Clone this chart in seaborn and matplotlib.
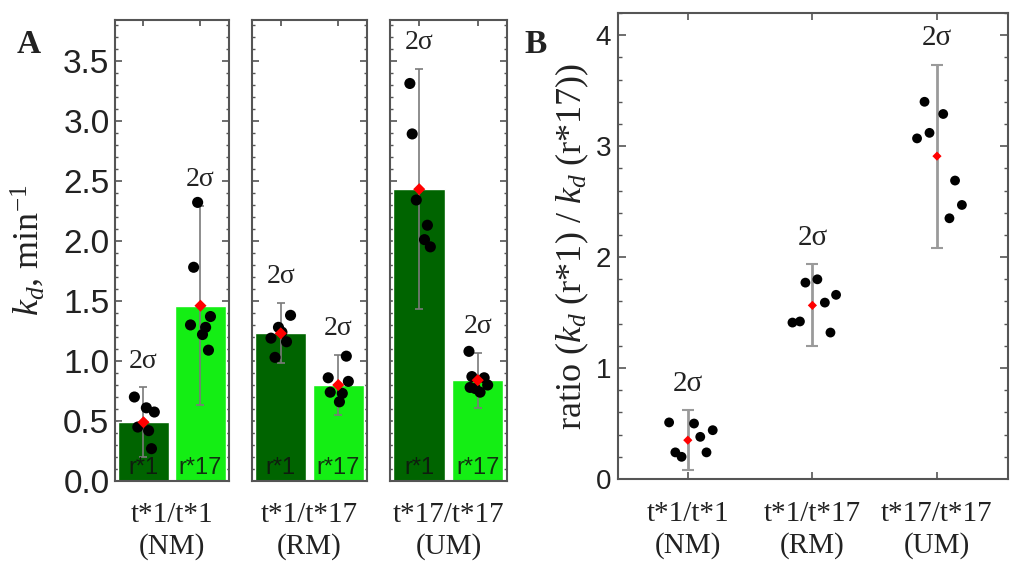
import numpy as np
import pandas as pd
import matplotlib
matplotlib.use("Agg")
import matplotlib.pyplot as plt
import seaborn as sns
from matplotlib.ticker import MultipleLocator, FormatStrFormatter

# ---------------- data ----------------
pair_labels = ["t*1/t*1", "t*1/t*17", "t*17/t*17"]
pair_types = ["(NM)", "(RM)", "(UM)"]
receptors = ["r*1", "r*17"]

# panel A: mean kd and 2 sigma for each (pair, receptor)
kd_mean = [[0.49, 1.46], [1.23, 0.80], [2.43, 0.84]]
kd_2sigma = [[0.29, 0.83], [0.25, 0.25], [1.00, 0.23]]

kd_nm_r1 = [0.70, 0.61, 0.575, 0.45, 0.42, 0.27]
kd_nm_r1_jit = [-0.16, 0.05, 0.19, -0.10, 0.09, 0.14]
kd_nm_r17 = [2.32, 1.78, 1.30, 1.37, 1.28, 1.22, 1.09]
kd_nm_r17_jit = [-0.05, -0.12, -0.175, 0.175, 0.09, 0.035, 0.14]
kd_rm_r1 = [1.38, 1.28, 1.19, 1.16, 1.03, 1.24]
kd_rm_r1_jit = [0.17, -0.04, -0.17, 0.10, -0.10, 0.02]
kd_rm_r17 = [1.04, 0.86, 0.83, 0.74, 0.73, 0.66]
kd_rm_r17_jit = [0.14, -0.175, 0.175, -0.14, 0.07, 0.02]
kd_um_r1 = [3.31, 2.89, 2.34, 2.13, 2.01, 1.95]
kd_um_r1_jit = [-0.16, -0.12, -0.05, 0.14, 0.09, 0.19]
kd_um_r17 = [1.08, 0.87, 0.86, 0.80, 0.78, 0.74, 0.77]
kd_um_r17_jit = [-0.15, -0.10, 0.11, 0.17, -0.13, 0.04, -0.04]

kd_points = [[kd_nm_r1, kd_nm_r17], [kd_rm_r1, kd_rm_r17], [kd_um_r1, kd_um_r17]]
kd_jitter = [[kd_nm_r1_jit, kd_nm_r17_jit], [kd_rm_r1_jit, kd_rm_r17_jit],
             [kd_um_r1_jit, kd_um_r17_jit]]

# panel B: ratio kd(r*1)/kd(r*17)
ratio_mean = [0.35, 1.565, 2.91]
ratio_2sigma = [0.27, 0.37, 0.825]
ratio_nm = [0.51, 0.50, 0.44, 0.38, 0.24, 0.20, 0.24]
ratio_nm_jit = [-0.15, 0.05, 0.20, 0.10, -0.10, -0.05, 0.15]
ratio_rm = [1.77, 1.80, 1.59, 1.66, 1.41, 1.42, 1.32]
ratio_rm_jit = [-0.056, 0.04, 0.10, 0.19, -0.16, -0.10, 0.145]
ratio_um = [3.40, 3.29, 3.12, 3.07, 2.69, 2.47, 2.35]
ratio_um_jit = [-0.10, 0.05, -0.06, -0.16, 0.145, 0.20, 0.10]
ratio_points = [ratio_nm, ratio_rm, ratio_um]
ratio_jitter = [ratio_nm_jit, ratio_rm_jit, ratio_um_jit]

# ---------------- style ----------------
sns.set_theme(style="white")
plt.rcParams["font.family"] = ["Liberation Serif", "DejaVu Serif"]
plt.rcParams["mathtext.fontset"] = "custom"
plt.rcParams["mathtext.it"] = "Liberation Serif:italic"
plt.rcParams["mathtext.rm"] = "Liberation Serif"
plt.rcParams["axes.unicode_minus"] = True

DARK = "#006400"
LIGHT = "#14ee14"
SPINE = "#555555"
TXT = "#222222"
SANS = "Liberation Sans"

fig = plt.figure(figsize=(10.15, 5.66), dpi=100)

sub_rects = [(0.1133, 0.1123), (0.2483, 0.1133), (0.3842, 0.1153)]
axesA = [fig.add_axes([l, 0.150, w, 0.815]) for l, w in sub_rects]

for i, ax in enumerate(axesA):
    df = pd.DataFrame({"receptor": receptors, "kd": kd_mean[i]})
    sns.barplot(data=df, x="receptor", y="kd", hue="receptor",
                palette=[DARK, LIGHT], width=0.88, saturation=1,
                errorbar=None, legend=False, ax=ax, zorder=1)
    ax.errorbar(x=[0, 1], y=kd_mean[i], yerr=kd_2sigma[i], fmt="none",
                ecolor="#7a7a7a", elinewidth=1.2, capsize=3, capthick=1.2,
                zorder=2)
    rows = []
    for j in range(2):
        for v, jt in zip(kd_points[i][j], kd_jitter[i][j]):
            rows.append({"x": j + jt, "kd": v})
    pts = pd.DataFrame(rows)
    sns.scatterplot(data=pts, x="x", y="kd", color="black", s=64,
                    edgecolor="none", ax=ax, zorder=3)
    sns.scatterplot(x=[0, 1], y=kd_mean[i], marker="D", color="red", s=38,
                    edgecolor="none", ax=ax, zorder=4)
    for j in range(2):
        ax.text(j, 0.06, receptors[j], ha="center", va="baseline",
                family=SANS, fontsize=17, color="#111111", alpha=0.85,
                zorder=5)
        ax.annotate("2σ", xy=(j, kd_mean[i][j] + kd_2sigma[i][j]),
                    xytext=(0, 19), textcoords="offset points",
                    ha="center", va="center", fontsize=20, color=TXT)
    ax.set_xlim(-0.5, 1.5)
    ax.set_ylim(0, 3.84)
    ax.set_xticks([0, 1])
    ax.tick_params(axis="x", which="both", bottom=False, top=True,
                   labelbottom=False, direction="in", length=4,
                   color=SPINE)
    ax.yaxis.set_major_locator(MultipleLocator(0.5))
    ax.yaxis.set_minor_locator(MultipleLocator(0.1))
    ax.yaxis.set_major_formatter(FormatStrFormatter("%.1f"))
    ax.tick_params(axis="y", which="both", direction="in", left=True,
                   right=True, labelleft=(i == 0), color=SPINE)
    ax.tick_params(axis="y", which="major", length=5, width=1.2, pad=4,
                   labelsize=24, labelcolor=TXT)
    ax.tick_params(axis="y", which="minor", length=2.5, width=1.0)
    for lab in ax.get_yticklabels():
        lab.set_family(SANS)
    for sp in ax.spines.values():
        sp.set_color(SPINE)
        sp.set_linewidth(1.5)
        sp.set_visible(True)
    ax.set_ylabel("")
    ax.set_xlabel(f"{pair_labels[i]}\n{pair_types[i]}", fontsize=21,
                  color=TXT, labelpad=15, linespacing=1.25)

axesA[0].set_ylabel("$k_d$, min$^{-1}$", fontsize=26, color=TXT)
axesA[0].yaxis.set_label_coords(-0.60, 0.5)

# ---------------- panel B ----------------
axB = fig.add_axes([0.6089, 0.1537, 0.3842, 0.8233])
rowsB = []
for i in range(3):
    for v, jt in zip(ratio_points[i], ratio_jitter[i]):
        rowsB.append({"x": i + jt, "ratio": v})
ptsB = pd.DataFrame(rowsB)
axB.errorbar(x=[0, 1, 2], y=ratio_mean, yerr=ratio_2sigma, fmt="none",
             ecolor="#9a9a9a", elinewidth=2.0, capsize=4, capthick=1.5,
             zorder=2)
sns.scatterplot(data=ptsB, x="x", y="ratio", color="black", s=50,
                edgecolor="none", ax=axB, zorder=3)
sns.scatterplot(x=[0, 1, 2], y=ratio_mean, marker="D", color="red", s=22,
                edgecolor="none", ax=axB, zorder=4)
for i in range(3):
    axB.annotate("2σ", xy=(i, ratio_mean[i] + ratio_2sigma[i]),
                 xytext=(0, 19), textcoords="offset points",
                 ha="center", va="center", fontsize=21, color=TXT)
axB.set_xlim(-0.56, 2.57)
axB.set_ylim(0, 4.2)
axB.set_xticks([0, 1, 2])
axB.set_xticklabels([f"{a}\n{b}" for a, b in zip(pair_labels, pair_types)],
                    fontsize=21, color=TXT, linespacing=1.25)
axB.tick_params(axis="x", which="both", bottom=True, top=True,
                direction="in", length=5, width=1.2, pad=16, color=SPINE)
axB.yaxis.set_major_locator(MultipleLocator(1))
axB.yaxis.set_minor_locator(MultipleLocator(0.2))
axB.yaxis.set_major_formatter(FormatStrFormatter("%d"))
axB.tick_params(axis="y", which="both", direction="in", left=True,
                right=True, color=SPINE)
axB.tick_params(axis="y", which="major", length=6, width=1.2, pad=5,
                labelsize=20, labelcolor=TXT)
axB.tick_params(axis="y", which="minor", length=3, width=1.0)
for lab in axB.get_yticklabels():
    lab.set_family(SANS)
for sp in axB.spines.values():
    sp.set_color(SPINE)
    sp.set_linewidth(1.5)
    sp.set_visible(True)
axB.set_xlabel("")
axB.set_ylabel("ratio ($k_d$ (r*1) / $k_d$ (r*17))", fontsize=26, color=TXT)
axB.yaxis.set_label_coords(-0.07, 0.5)

fig.text(29 / 1015, 1 - 53 / 566, "A", fontsize=24, fontweight="bold",
         ha="center", va="baseline", color=TXT)
fig.text(536 / 1015, 1 - 53 / 566, "B", fontsize=24, fontweight="bold",
         ha="center", va="baseline", color=TXT)

fig.savefig("out.png", dpi=100)
